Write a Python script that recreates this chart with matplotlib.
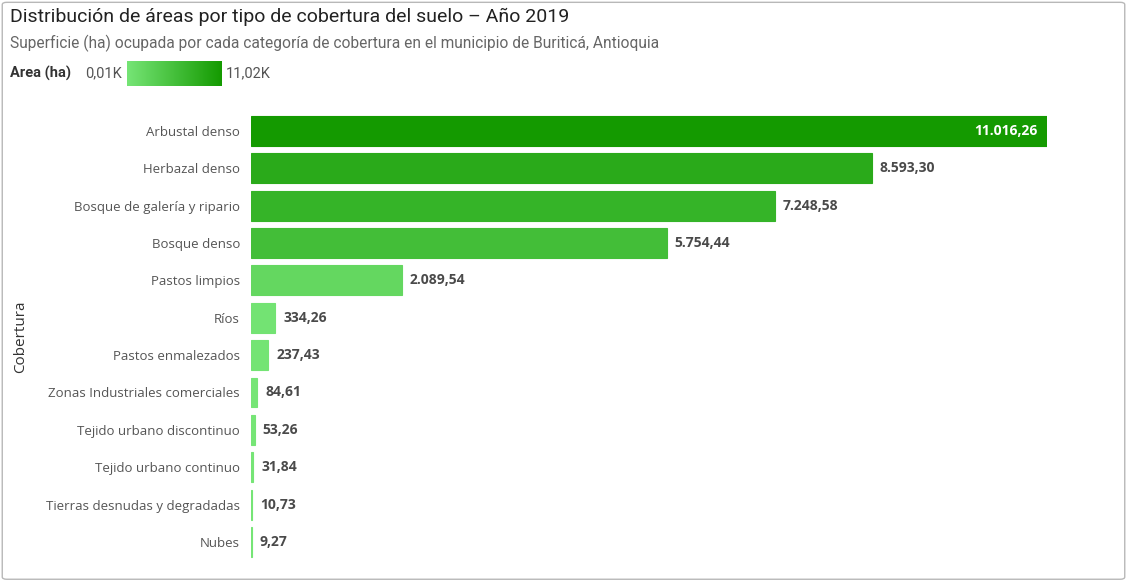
import matplotlib
matplotlib.use("Agg")
import matplotlib.pyplot as plt
from matplotlib.colors import LinearSegmentedColormap, Normalize
from matplotlib.patches import FancyBboxPatch
import numpy as np

categories = ["Arbustal denso", "Herbazal denso", "Bosque de galería y ripario",
              "Bosque denso", "Pastos limpios", "Ríos", "Pastos enmalezados",
              "Zonas Industriales comerciales", "Tejido urbano discontinuo",
              "Tejido urbano continuo", "Tierras desnudas y degradadas", "Nubes"]
areas = [11016.26, 8593.30, 7248.58, 5754.44, 2089.54, 334.26, 237.43,
         84.61, 53.26, 31.84, 10.73, 9.27]
labels = ["11.016,26", "8.593,30", "7.248,58", "5.754,44", "2.089,54", "334,26",
          "237,43", "84,61", "53,26", "31,84", "10,73", "9,27"]

plt.rcParams['font.family'] = ['Open Sans', 'DejaVu Sans']

cmap = LinearSegmentedColormap.from_list("verde", ["#76E576", "#149A00"])
norm = Normalize(min(areas), max(areas))

fig = plt.figure(figsize=(11.27, 5.81), dpi=100)
fig.patches.append(FancyBboxPatch((0.002, 0.003), 0.996, 0.993,
                                  boxstyle="round,pad=0,rounding_size=0.004",
                                  transform=fig.transFigure, fill=False,
                                  edgecolor="#b8b8b8", linewidth=1.0))

ax = fig.add_axes([251 / 1127, 0.035, (1047 - 251) / 1127, 0.772])
y = np.arange(len(categories))
cols = [cmap(norm(v)) for v in areas]
ax.barh(y, areas, height=0.8, color=cols, edgecolor=cols, linewidth=0.8)
ax.set_xlim(0, max(areas))
ax.set_ylim(len(categories) - 0.5, -0.5)
ax.set_yticks(y)
ax.set_yticklabels(categories, fontsize=9.5, color="#555555")
ax.tick_params(axis="y", length=0, pad=8)
ax.set_xticks([])
for s in ax.spines.values():
    s.set_visible(False)
ax.set_ylabel("Cobertura", fontsize=11, color="#333333")
ax.yaxis.set_label_coords(-0.28, 0.5)

for i, (v, lab) in enumerate(zip(areas, labels)):
    if i == 0:
        ax.text(v - 130, i, lab, ha="right", va="center", fontsize=10,
                fontweight="bold", color="white")
    else:
        ax.text(v + 110, i, lab, ha="left", va="center", fontsize=10,
                fontweight="bold", color="#4a4a4a")

fig.text(10 / 1127, 1 - 17 / 581, "Distribución de áreas por tipo de cobertura del suelo – Año 2019",
         fontsize=14, color="#222222", va="center", family=['Roboto', 'DejaVu Sans'])
fig.text(10 / 1127, 1 - 43 / 581,
         "Superficie (ha) ocupada por cada categoría de cobertura en el municipio de Buriticá, Antioquia",
         fontsize=11.2, color="#666666", va="center", family=['Roboto', 'DejaVu Sans'])
fig.text(10 / 1127, 1 - 73 / 581, "Area (ha)", fontsize=10.5, fontweight="bold",
         color="#333333", va="center", family=['Roboto', 'DejaVu Sans'])
fig.text(85 / 1127, 1 - 73 / 581, "0,01K", fontsize=10.5, color="#555555", va="center",
         family=['Roboto', 'DejaVu Sans'])
fig.text(226 / 1127, 1 - 73 / 581, "11,02K", fontsize=10.5, color="#555555", va="center",
         family=['Roboto', 'DejaVu Sans'])

cax = fig.add_axes([127 / 1127, 1 - 86 / 581, 95 / 1127, 25 / 581])
cax.imshow(np.linspace(0, 1, 256).reshape(1, -1), aspect="auto", cmap=cmap)
cax.set_axis_off()

fig.savefig("out.png", dpi=100)
